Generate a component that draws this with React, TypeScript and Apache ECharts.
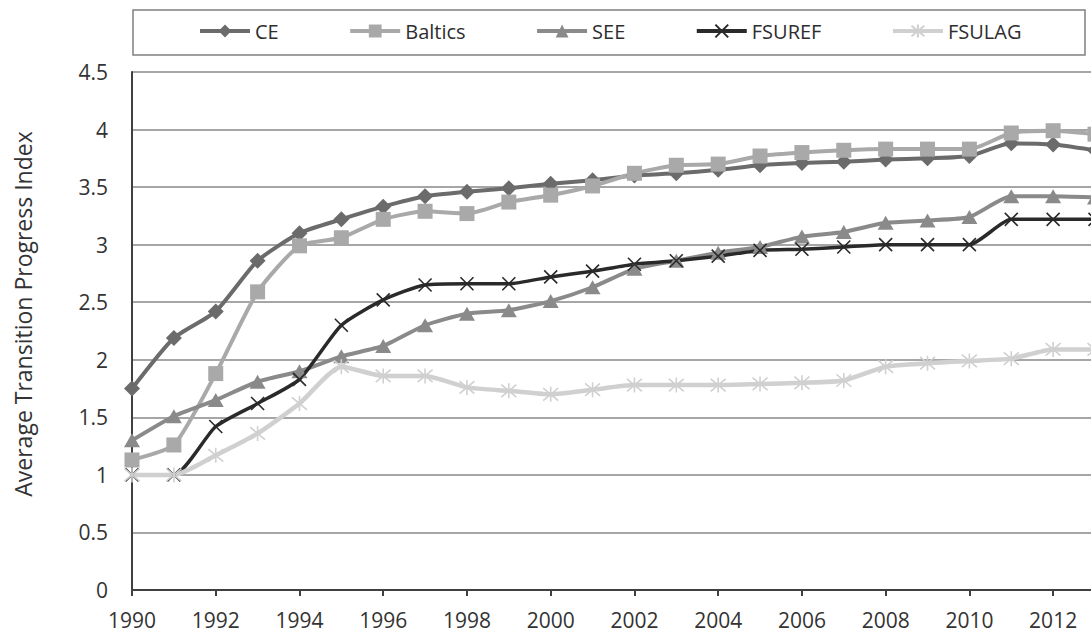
import React, { useEffect, useRef } from "react";
import * as echarts from "echarts";

const years = ["1990","1991","1992","1993","1994","1995","1996","1997","1998","1999","2000","2001","2002","2003","2004","2005","2006","2007","2008","2009","2010","2011","2012","2013"];
const ceValues = [1.75, 2.19, 2.42, 2.86, 3.10, 3.22, 3.33, 3.42, 3.46, 3.49, 3.53, 3.56, 3.60, 3.62, 3.65, 3.69, 3.71, 3.72, 3.74, 3.75, 3.77, 3.88, 3.87, 3.82];
const balticsValues = [1.13, 1.26, 1.88, 2.59, 2.99, 3.06, 3.22, 3.29, 3.27, 3.37, 3.43, 3.51, 3.62, 3.69, 3.70, 3.77, 3.80, 3.82, 3.83, 3.83, 3.83, 3.97, 3.99, 3.96];
const seeValues = [1.30, 1.51, 1.65, 1.81, 1.90, 2.03, 2.12, 2.30, 2.40, 2.43, 2.51, 2.63, 2.79, 2.86, 2.93, 2.98, 3.07, 3.11, 3.19, 3.21, 3.24, 3.42, 3.42, 3.41];
const fsurefValues = [1.00, 1.00, 1.42, 1.62, 1.83, 2.30, 2.52, 2.65, 2.66, 2.66, 2.72, 2.77, 2.83, 2.86, 2.90, 2.95, 2.96, 2.98, 3.00, 3.00, 3.00, 3.22, 3.22, 3.22];
const fsulagValues = [1.00, 1.00, 1.17, 1.36, 1.62, 1.94, 1.86, 1.86, 1.76, 1.73, 1.70, 1.74, 1.78, 1.78, 1.78, 1.79, 1.80, 1.82, 1.94, 1.97, 1.99, 2.01, 2.09, 2.09];
const yAxisTitle = "Average Transition Progress Index";

const FONT = "Open Sans";

export default function App() {
  const ref = useRef<HTMLDivElement>(null);
  useEffect(() => {
    if (!ref.current) return;
    const chart = echarts.init(ref.current, null, { renderer: "svg" });
    const mk = (name: string, data: number[], color: string, symbol: string, size: any, width: number, stroke?: boolean) => ({
      name,
      type: "line",
      data,
      smooth: 0.2,
      symbol,
      symbolSize: size,
      showSymbol: true,
      lineStyle: { color, width },
      itemStyle: stroke
        ? { color, borderColor: color, borderWidth: 1.6 }
        : { color, borderWidth: 0 },
    });
    chart.setOption({
      animation: false,
      backgroundColor: "#ffffff",
      grid: { left: 132, top: 72, right: 15, bottom: 43, containLabel: false },
      legend: {
        left: 198,
        top: 21,
        padding: 0,
        itemWidth: 50,
        itemHeight: 16,
        itemGap: 69.5,
        lineStyle: { width: 4 },
        textStyle: { fontFamily: FONT, fontSize: 20, color: "#2e2e2e" },
        data: ["CE", "Baltics", "SEE", "FSUREF", "FSULAG"],
      },
      graphic: [
        {
          type: "rect",
          shape: { x: 133, y: 10, width: 952, height: 45 },
          style: { fill: "none", stroke: "#808080", lineWidth: 1.5 },
        },
        {
          type: "text",
          x: 23,
          y: 314,
          rotation: Math.PI / 2,
          style: {
            text: yAxisTitle,
            fontFamily: FONT,
            fontSize: 23,
            fill: "#333333",
            align: "center",
            verticalAlign: "middle",
          },
        },
      ],
      xAxis: {
        type: "category",
        data: years,
        boundaryGap: false,
        axisLine: { show: true, lineStyle: { color: "#404040", width: 2 } },
        axisTick: { show: true, interval: 1, length: 6, lineStyle: { color: "#404040", width: 2 } },
        axisLabel: { interval: 1, margin: 19, fontFamily: FONT, fontSize: 21, color: "#333333" },
        splitLine: { show: false },
      },
      yAxis: {
        type: "value",
        min: 0,
        max: 4.5,
        interval: 0.5,
        axisLine: { show: true, lineStyle: { color: "#404040", width: 2 } },
        axisTick: { show: false },
        axisLabel: { margin: 24, fontFamily: FONT, fontSize: 21, color: "#333333" },
        splitLine: { show: true, lineStyle: { color: "#a6a6a6", width: 2 } },
      },
      series: [
        mk("CE", ceValues, "#6b6b6b", "diamond", 16, 4),
        mk("Baltics", balticsValues, "#a9a9a9", "rect", 15, 4),
        mk("SEE", seeValues, "#8a8a8a", "triangle", [16, 14], 4),
        mk("FSUREF", fsurefValues, "#2a2a2a", "path://M0,0L10,10M10,0L0,10", 13, 3.5, true),
        mk("FSULAG", fsulagValues, "#d0d0d0", "path://M0,0L10,10M10,0L0,10M5,-1L5,11", 15, 4.5, true),
      ],
    });
    return () => chart.dispose();
  }, []);
  return (
    <div style={{ position: "fixed", left: 0, top: 0, width: 1091, height: 633, overflow: "hidden", background: "#fff" }}>
      <div ref={ref} style={{ width: 1110, height: 633 }} />
    </div>
  );
}
